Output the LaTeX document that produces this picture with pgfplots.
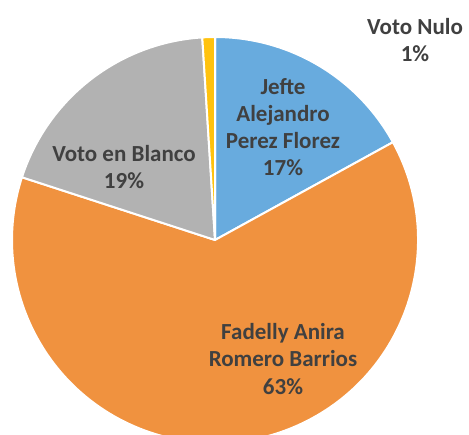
\documentclass[border=0pt]{standalone}
\usepackage{fontspec}
\setmainfont{Carlito}
\usepackage{pgfplots}
\pgfplotsset{compat=1.18}

\definecolor{sblue}{HTML}{68ABDE}
\definecolor{sorange}{HTML}{F0923F}
\definecolor{sgray}{HTML}{B2B2B2}
\definecolor{syellow}{HTML}{FFC20E}
\definecolor{txt}{HTML}{404040}

% one wedge: #1 = share before it (%), #2 = share (%), #3 = colour
\newcommand\slice[3]{%
  \fill[#3, draw=white, line width=1pt, line join=round]
    (axis cs:215,194) -- ++({90-3.6*#1}:101.5pt)
    arc[start angle={90-3.6*#1}, delta angle={-3.6*#2}, radius=101.5pt] -- cycle;}

\begin{document}
\begin{tikzpicture}
\begin{axis}[
    x=0.5pt, y=0.5pt,
    xmin=0, xmax=469, ymin=0, ymax=434,
    hide axis,
    clip=true,
]
% shares: Jefte 17, Fadelly 63, Blanco 19, Nulo 1
\slice{0}{17}{sblue}
\slice{17}{63}{sorange}
\slice{80}{19}{sgray}
\slice{99}{1}{syellow}

\tikzset{lbl/.style={align=center, text=txt, font=\bfseries\fontsize{11.5}{13.6}\selectfont}}
\node[lbl] at (axis cs:283,307) {Jefte\\Alejandro\\Perez Florez\\17\%};
\node[lbl] at (axis cs:283,75) {Fadelly Anira\\Romero Barrios\\63\%};
\node[lbl] at (axis cs:124,267) {Voto en Blanco\\19\%};
\node[lbl] at (axis cs:415,394) {Voto Nulo\\1\%};
\end{axis}
\pgfresetboundingbox
\useasboundingbox (current axis.south west) rectangle (current axis.north east);
\end{tikzpicture}
\end{document}
